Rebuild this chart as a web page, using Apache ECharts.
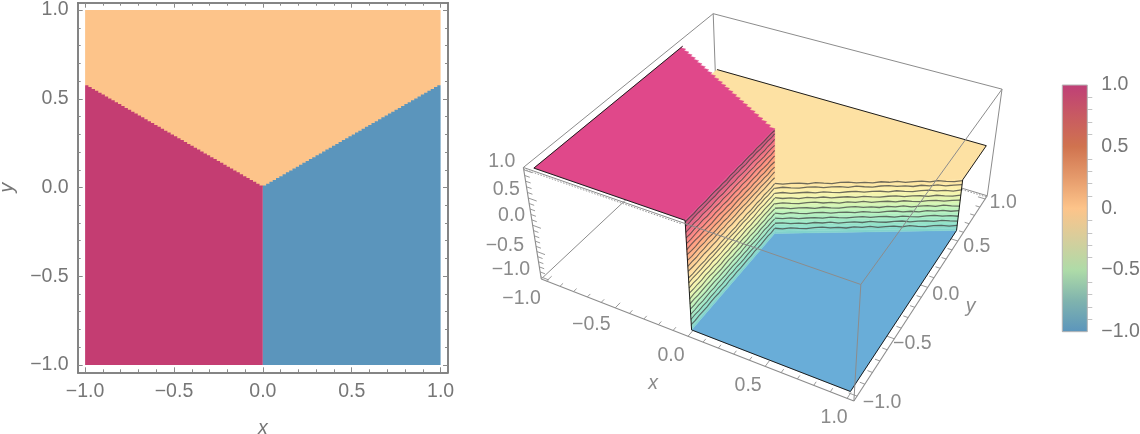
<!DOCTYPE html>
<html><head><meta charset="utf-8">
<style>html,body{margin:0;padding:0;background:#fff}#c{width:1140px;height:434px}</style>
<script src="https://cdn.jsdelivr.net/npm/echarts@6/dist/echarts.min.js"></script>
</head><body><div id="c"></div>
<script>
// ---------- data ----------
const majorTicks = [-1, -0.5, 0, 0.5, 1];
const minorTicks = [-0.9,-0.8,-0.7,-0.6,-0.4,-0.3,-0.2,-0.1,0.1,0.2,0.3,0.4,0.6,0.7,0.8,0.9];
const colorBarLabels = ['−1.0', '−0.5', '0.', '0.5', '1.0'];
const boundaryLeft = [[-1, 0.577], [0, 0]];
const boundaryRight = [[0, 0], [1, 0.577]];
const regionValues = { upper: 0, left: 1, right: -1 };
const contourLevels = [-0.9,-0.8,-0.7,-0.6,-0.5,-0.4,-0.3,-0.2,-0.1,-0.02,0.1,0.2,0.3,0.4,0.5,0.6,0.7,0.8,0.9,0.97];
const contourWiggle = [0.4,-0.6,0.7,-0.2,-0.8,0.5,0.9,-0.4,0.2,-0.9,0.6,-0.3,0.8,-0.7,0.1,0.6,-0.5,0.9,-0.2,-0.7,0.4,0.7,-0.6,0.3];
const colorBarStops = [[1,'#BF3F77'],[0.75,'#C85A62'],[0.5,'#D0734F'],[0.25,'#E59A6B'],[0,'#FDC48A'],[-0.25,'#D6CE9C'],[-0.5,'#AEDBA8'],[-0.75,'#7FB3AE'],[-1,'#5B95BC']];
const litWallStops = [[1,'#C94E82'],[0.8,'#EE6A85'],[0.6,'#FF8A80'],[0.4,'#FFA67F'],[0.2,'#FFC88E'],[0,'#FFE3A0'],[-0.2,'#FCF4AC'],[-0.4,'#DDF6B0'],[-0.6,'#B8F2BE'],[-0.8,'#98E6C8'],[-1,'#7FD0CC']];

// ---------- styles / layout ----------
const FONT = '"Liberation Sans", Arial, sans-serif';
const FS = 19.5;
const TXT = '#767676', TXT3 = '#8a8a8a';
const C2D = { upper:'#FDC48A', left:'#C43D72', right:'#5B95BC' };
const C3D = { upper:'#FDE1A3', left:'#E0488A', right:'#69ADD8' };
const BOX = 1.04;
const pad = 1.0417;
// camera fitted to where the box and surface corners land in the picture
const calib = [
 [-BOX,-BOX, BOX,523.3,166.7],[-BOX, BOX, BOX,713.7,13.3],[BOX,-BOX, BOX,860,284],[BOX,BOX,BOX,1002.3,89],
 [-BOX,-BOX,-BOX,541,279],[BOX,-BOX,-BOX,852.7,400.7],[BOX,BOX,-BOX,987.3,195],
 [-1,-1,1,534,167],[-1,0.577,1,682.5,47.5],[0,0,1,775,128],[0,-1,1,685,222],[0,-1,-1,693,331],
 [1,-1,-1,851,392],[1,0.577,-1,956,231],[0,0,-1,775,232],[1,0.577,0,962.7,180],[1,1,0,986.7,146],[-1,1,0,716,70]
];
function solveCamera(rows){
  const n=11, A=Array.from({length:n},()=>new Array(n+1).fill(0));
  const add=(r,b)=>{for(let i=0;i<n;i++){for(let j=0;j<n;j++)A[i][j]+=r[i]*r[j];A[i][n]+=r[i]*b;}};
  rows.forEach(([X,Y,Z,u,v])=>{
    add([X,Y,Z,1,0,0,0,0,-u*X,-u*Y,-u*Z],u);
    add([0,0,0,0,X,Y,Z,1,-v*X,-v*Y,-v*Z],v);
  });
  for(let i=0;i<n;i++){
    let p=i;for(let k=i+1;k<n;k++)if(Math.abs(A[k][i])>Math.abs(A[p][i]))p=k;
    [A[i],A[p]]=[A[p],A[i]];
    for(let k=0;k<n;k++){if(k===i)continue;const f=A[k][i]/A[i][i];for(let j=i;j<=n;j++)A[k][j]-=f*A[i][j];}
  }
  return A.map((r,i)=>r[n]/r[i]);
}
const P = solveCamera(calib);
function proj(p){
  const [X,Y,Z]=p, w=P[8]*X+P[9]*Y+P[10]*Z+1;
  return [(P[0]*X+P[1]*Y+P[2]*Z+P[3])/w,(P[4]*X+P[5]*Y+P[6]*Z+P[7])/w];
}
function stair(a,b,n){ // sawtooth staircase along a region boundary, as the sampled original shows
  const pts=[];
  for(let i=0;i<n;i++){
    const t0=i/n,t1=(i+1)/n;
    pts.push([a[0]+(b[0]-a[0])*t0,a[1]+(b[1]-a[1])*t0]);
    pts.push([a[0]+(b[0]-a[0])*t1,a[1]+(b[1]-a[1])*t0]);
  }
  pts.push(b.slice());
  return pts;
}
function lerpColor(stops,z){
  for(let i=0;i<stops.length-1;i++){
    const [z0,c0]=stops[i],[z1,c1]=stops[i+1];
    if(z<=z0&&z>=z1){
      const t=(z0-z)/(z0-z1),h=c=>[1,3,5].map(k=>parseInt(c.substr(k,2),16));
      const a=h(c0),b=h(c1);
      return 'rgb('+a.map((v,k)=>Math.round(v+(b[k]-v)*t)).join(',')+')';
    }
  }
  return stops[stops.length-1][1];
}
const fmt=v=>(v<0?'−':'')+Math.abs(v).toFixed(1);

// ---------- 2D region polygons (in data space) ----------
const L2=stair(boundaryLeft[0],boundaryLeft[1],54), R2=stair(boundaryRight[1],boundaryRight[0],54);
const regions2D=[
  {c:C2D.upper,pts:[[-1,1],[1,1],[1,0.577],[0,0],[-1,0.577]]},
  {c:C2D.left,pts:[[-1,-1],[0,-1],[0,0]].concat(L2.slice().reverse())},
  {c:C2D.right,pts:[[0,-1],[1,-1]].concat(R2,[[0,0]])}
];

// ---------- 3D marks ----------
const marks=[];
const line=(pts,stroke,w,extra)=>marks.push({k:'l',pts,stroke,w,extra});
const poly=(pts,fill)=>marks.push({k:'p',pts,fill});
const B=BOX;
const GR='#8c8c8c', TK='#9a9a9a', BK='#1c1c1c';
// back box edges
line([[-B,-B,-B],[-B,B,-B]],GR,1);
line([[-B,B,-B],[-B,B,B]],GR,1);
line([[-B,B,-B],[B,B,-B]],GR,1);
line([[B,B,-B],[B,B,B]],GR,1);
line([[-B,B,B],[B,B,B]],GR,1);
line([[-B,-B,B],[-B,B,B]],GR,1);
line([[0.8,B,-B],[B,B,-B]],TK,1,{dash:[1.5,1.5],dy:1.4});
// ticks on the three labelled edges
const tickLen=v=>majorTicks.indexOf(v)>=0?0.05:0.03;
majorTicks.concat(minorTicks).forEach(t=>{
  line([[t,-B,-B],[t,-B+tickLen(t),-B]],TK,1);
  line([[B,t,-B],[B-tickLen(t),t,-B]],TK,1);
  line([[-B,-B,t],[-B+tickLen(t)*1.2,-B,t]],TK,1);
});
// lower edges
line([[-B,-B,-B],[B,-B,-B]],GR,1.1);
line([[B,-B,-B],[B,B,-B]],GR,1.1);
line([[-B,-B,B],[-B,-B,-B]],GR,1.1);
// flat parts
const zp=(pts,z)=>pts.map(p=>[p[0],p[1],z]);
poly(zp([[-1,1],[1,1],[1,0.577],[0,0],[-1,0.577]],regionValues.upper),C3D.upper);
poly(zp([[0,-1],[1,-1],[1,0.577],[0,0]],regionValues.right),C3D.right);
// walls
function wall(a,b,z0,z1,amp,w){
  const n=Math.round((z1-z0)*22);
  for(let i=0;i<n;i++){
    const za=z0+(z1-z0)*i/n, zb=z0+(z1-z0)*(i+1)/n;
    poly([[a[0],a[1],za],[b[0],b[1],za],[b[0],b[1],zb],[a[0],a[1],zb]],lerpColor(litWallStops,(za+zb)/2));
  }
  contourLevels.filter(l=>l>z0&&l<z1).forEach((l,li)=>{
    const m=contourWiggle.length, pts=[];
    for(let i=0;i<m;i++){
      const t=i/(m-1), d=contourWiggle[(i+li*5)%m]*amp;
      pts.push([a[0]+(b[0]-a[0])*t,a[1]+(b[1]-a[1])*t,l+d]);
    }
    line(pts,'rgba(64,64,64,0.75)',w);
  });
}
wall([0,0],[1,0.577],-1,0,0.014,1.3);
wall([0,-1],[0,0],-1,1,0.007,1.1);
// flat pink plateau
poly(zp([[-1,-1],[0,-1],[0,0]].concat(stair([0,0],[-1,0.577],26)),regionValues.left),C3D.left);
// surface outline
line([[-1,0.577,1],[-1,-1,1],[0,-1,1],[0,-1,-1],[1,-1,-1],[1,0.577,-1],[1,0.577,0],[1,1,0],[-1,1,0]],BK,1);
// front box edges
line([[-B,-B,B],[B,-B,B]],GR,1);
line([[B,-B,B],[B,B,B]],GR,1);
line([[B,-B,B],[B,-B,-B]],GR,1);
line([[-B,-B,B],[0.0,-B,B]],TK,1,{dash:[1.5,1.5],dy:1.6});

// labels: anchor on the axis edge + pixel offset
const lab3=[];
const xOff=[[-25,18],[-24,17],[-17,19],[-17,19],[-13,19]];
const yOff=[[25,6],[18,5],[18,7],[19,6],[18,4]];
const zOff=[[-30,-7],[-32,-6],[-21,-10],[-22,-8],[-22,-8]];
majorTicks.forEach((t,i)=>{
  lab3.push({p:[t,-B,-B],o:xOff[i],s:fmt(t)});
  lab3.push({p:[B,t,-B],o:yOff[i],s:fmt(t)});
  lab3.push({p:[-B,-B,t],o:zOff[i],s:fmt(t)});
});
lab3.push({p:[0,-B,-B],o:[-35,47],s:'x',i:1},{p:[B,0,-B],o:[43,19],s:'y',i:1});

const tickAxis=(pos,extra)=>Object.assign({
  type:'value',gridIndex:0,position:pos,min:-pad,max:pad,
  axisLine:{show:true,onZero:false,lineStyle:{color:'#7d7d7d',width:1.5}},splitLine:{show:false},axisLabel:{show:false}
},extra);
const tickSet=(vals,len)=>({show:true,inside:true,length:len,customValues:vals,lineStyle:{color:'#8a8a8a',width:1}});
const labelSet=(extra)=>Object.assign({show:true,customValues:majorTicks,formatter:fmt,color:TXT,fontSize:FS,fontFamily:FONT},extra);
const nameStyle={color:TXT,fontSize:FS,fontStyle:'italic',fontFamily:FONT};

const option={
  animation:false,backgroundColor:'#fff',
  grid:[
    {left:77.7,top:2.7,width:370.3,height:369.6,outerBoundsMode:'none',containLabel:false},
    {left:1062.3,top:85,width:25,height:246.7,outerBoundsMode:'none',containLabel:false}
  ],
  xAxis:[
    tickAxis('bottom',{axisTick:tickSet(majorTicks,5),axisLabel:labelSet({margin:9}),name:'x',nameLocation:'middle',nameGap:46,nameTextStyle:nameStyle}),
    tickAxis('bottom',{axisTick:tickSet(minorTicks,3)}),
    tickAxis('top',{axisTick:tickSet(majorTicks,5)}),
    tickAxis('top',{axisTick:tickSet(minorTicks,3)}),
    {type:'value',gridIndex:1,min:0,max:1,show:false}
  ],
  yAxis:[
    tickAxis('left',{axisTick:tickSet(majorTicks,5),axisLabel:labelSet({margin:9,padding:[0,0,4,0]}),name:'y',nameLocation:'middle',nameGap:60,nameRotate:90,nameTextStyle:nameStyle}),
    tickAxis('left',{axisTick:tickSet(minorTicks,3)}),
    tickAxis('right',{axisTick:tickSet(majorTicks,5)}),
    tickAxis('right',{axisTick:tickSet(minorTicks,3)}),
    {type:'value',gridIndex:1,position:'right',min:-1,max:1,
      axisLine:{show:false},splitLine:{show:false},
      axisTick:{show:true,length:8,customValues:majorTicks,lineStyle:{color:'#c4c4c4',width:1}},
      axisLabel:{show:true,customValues:majorTicks,margin:14,padding:[0,0,4,0],color:TXT,fontSize:FS,fontFamily:FONT,
        formatter:v=>colorBarLabels[majorTicks.indexOf(v)]}},
    {type:'value',gridIndex:1,position:'right',min:-1,max:1,
      axisLine:{show:false},splitLine:{show:false},axisLabel:{show:false},
      axisTick:{show:true,length:5,customValues:minorTicks,lineStyle:{color:'#c4c4c4',width:1}}}
  ],
  series:[
    {type:'custom',xAxisIndex:0,yAxisIndex:0,clip:false,silent:true,data:regions2D.map((r,i)=>i),
     renderItem:(params,api)=>{const r=regions2D[params.dataIndex];
       return {type:'polygon',shape:{points:r.pts.map(p=>api.coord(p))},style:{fill:r.c}};}},
    {type:'custom',xAxisIndex:4,yAxisIndex:4,clip:false,silent:true,data:[0],
     renderItem:(params,api)=>{const a=api.coord([0,1]),b=api.coord([1,-1]);
       return {type:'rect',shape:{x:a[0],y:a[1],width:b[0]-a[0],height:b[1]-a[1]},
         style:{stroke:'#b5b5b5',lineWidth:1,fill:new echarts.graphic.LinearGradient(0,0,0,1,
           colorBarStops.map(s=>({offset:(1-s[0])/2,color:s[1]})))}};}},
    {type:'custom',coordinateSystem:'none',silent:true,clip:false,data:marks.map((m,i)=>i),
     renderItem:(params)=>{const m=marks[params.dataIndex];
       let pts=m.pts.map(proj);
       if(m.k==='p')return {type:'polygon',shape:{points:pts},style:{fill:m.fill,stroke:m.fill,lineWidth:0.4}};
       if(m.extra&&m.extra.dy)pts=pts.map(p=>[p[0],p[1]+m.extra.dy]);
       return {type:'polyline',shape:{points:pts},style:{fill:null,stroke:m.stroke,lineWidth:m.w,lineDash:m.extra&&m.extra.dash}};}},
    {type:'custom',coordinateSystem:'none',silent:true,clip:false,z:5,data:lab3.map((m,i)=>i),
     renderItem:(params)=>{
       const m=lab3[params.dataIndex],q=proj(m.p);
       return {type:'text',style:{text:m.s,x:q[0]+m.o[0],y:q[1]+m.o[1],fill:TXT3,fontSize:FS,fontFamily:FONT,fontStyle:m.i?'italic':'normal',align:'center',verticalAlign:'middle'}};}}
  ]
};
echarts.init(document.getElementById('c'),null,{renderer:'canvas'}).setOption(option);
</script></body></html>
